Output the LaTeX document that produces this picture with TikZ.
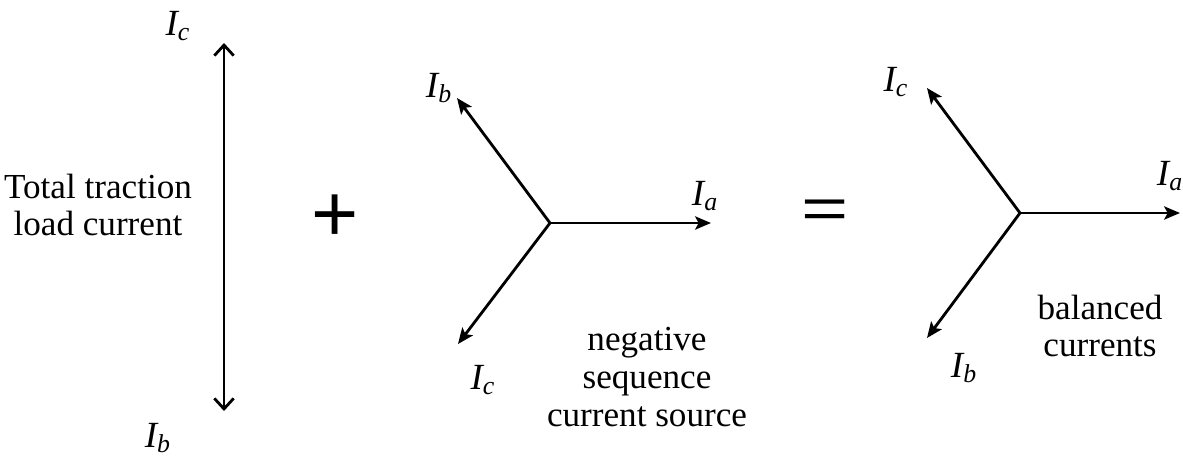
\documentclass[tikz,border=0pt]{standalone}
\usepackage{fontspec}
\setmainfont{Liberation Serif}
\newfontfamily\signfont{Liberation Sans}
\usetikzlibrary{arrows.meta}

\tikzset{
  txt/.style={inner sep=0pt, align=center, font=\fontsize{20}{21.5}\selectfont},
  cur/.style={inner sep=0pt, font=\fontsize{21}{22}\selectfont\itshape},
  sgn/.style={inner sep=0pt, font=\fontsize{46}{50}\selectfont\signfont},
  phasor/.style={line width=1.6pt, -{Stealth[length=9pt,width=7.5pt,inset=2pt]}},
  loadvec/.style={line width=1.6pt, {Straight Barb[length=6pt,width=11pt]}-{Straight Barb[length=6pt,width=11pt]}}
}

\begin{document}
\begin{tikzpicture}[x=0.02cm,y=-0.02cm]
\useasboundingbox (0,0) rectangle (1183,456);

% total traction load current
\coordinate (lt) at (224,43);
\coordinate (lb) at (224,411);
\draw[loadvec] (lb) -- (lt);
\node[cur] (lIc) at (178,26) {I\textsubscript{c}};
\node[cur] (lIb) at (158,438) {I\textsubscript{b}};
\node[txt] (ltext) at (98,205) {Total traction\\load current};

\node[sgn] (plus) at (335,218) {+};

% negative sequence source
\coordinate (n0) at (550,223);
\coordinate (na) at (711,223);
\coordinate (nb) at (457,98);
\coordinate (nc) at (458,344);
\draw[phasor] (n0) -- (na);
\draw[phasor] (n0) -- (nb);
\draw[phasor] (n0) -- (nc);
\node[cur] (nIa) at (705,196) {I\textsubscript{a}};
\node[cur] (nIb) at (439,88) {I\textsubscript{b}};
\node[cur] (nIc) at (483,380) {I\textsubscript{c}};
\node[txt] (ntext) at (647,377) {negative\\sequence\\current source};

\node[sgn] (eq) at (825,214) {\scalebox{1}[0.72]{=}};

% balanced
\coordinate (b0) at (1020,213);
\coordinate (ba) at (1180,213);
\coordinate (bc) at (927,88);
\coordinate (bb) at (927,338);
\draw[phasor] (b0) -- (ba);
\draw[phasor] (b0) -- (bc);
\draw[phasor] (b0) -- (bb);
\node[cur] (bIa) at (1170,176) {I\textsubscript{a}};
\node[cur] (bIc) at (896,82) {I\textsubscript{c}};
\node[cur] (bIb) at (964,368) {I\textsubscript{b}};
\node[txt] (btext) at (1100,326) {balanced\\currents};
\end{tikzpicture}
\end{document}
